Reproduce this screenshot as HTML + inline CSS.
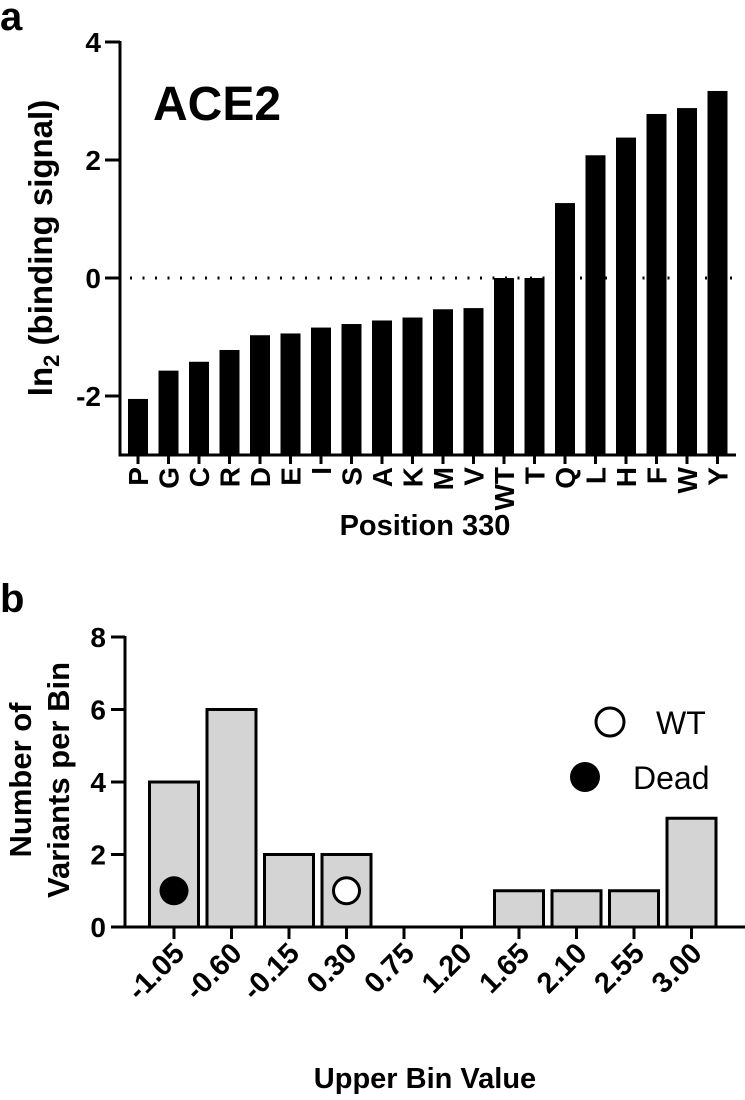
<!DOCTYPE html>
<html><head><meta charset="utf-8"><style>
html,body{margin:0;padding:0;background:#fff;}
svg{display:block;font-family:"Liberation Sans",Arial,sans-serif;}
</style></head><body>
<svg id="fig" width="745" height="1100" viewBox="0 0 745 1100" xmlns="http://www.w3.org/2000/svg">
<text x="0" y="30" font-size="40" font-weight="bold">a</text>
<text x="153" y="120" font-size="48" font-weight="bold">ACE2</text>
<text transform="translate(52,248) rotate(-90)" text-anchor="middle" font-size="33" font-weight="bold">ln<tspan font-size="22" dy="7">2</tspan><tspan dy="-7"> (binding signal)</tspan></text>
<text x="425" y="535" text-anchor="middle" font-size="29" font-weight="bold">Position 330</text>
<g id="chartA"></g>
<text x="0" y="612" font-size="40" font-weight="bold">b</text>
<text transform="translate(31,780) rotate(-90)" text-anchor="middle" font-size="31" font-weight="bold">Number of</text>
<text transform="translate(69,780) rotate(-90)" text-anchor="middle" font-size="31" font-weight="bold">Variants per Bin</text>
<text x="425" y="1088" text-anchor="middle" font-size="29" font-weight="bold">Upper Bin Value</text>
<g id="chartB"></g>
<g>
<circle cx="610" cy="722" r="14" fill="#fff" stroke="#000" stroke-width="3"/>
<text x="656" y="734" font-size="32">WT</text>
<circle cx="585" cy="777" r="15" fill="#000"/>
<text x="633" y="789" font-size="32">Dead</text>
</g>
</svg>
<script>
const catsA = ["P","G","C","R","D","E","I","S","A","K","M","V","WT","T","Q","L","H","F","W","Y"];
const valsA = [-2.05,-1.57,-1.42,-1.22,-0.97,-0.94,-0.84,-0.78,-0.72,-0.67,-0.53,-0.51,0,0,1.27,2.08,2.38,2.78,2.88,3.17];
const ticksA = [4,2,0,-2];
const binsB = ["-1.05","-0.60","-0.15","0.30","0.75","1.20","1.65","2.10","2.55","3.00"];
const countsB = [4,6,2,2,0,0,1,1,1,3];
const ticksB = [0,2,4,6,8];
const deadBin = 0, deadVal = 1;
const wtBin = 3, wtVal = 1;

const NS="http://www.w3.org/2000/svg";
function mk(tag,attrs,parent){const e=document.createElementNS(NS,tag);for(const k in attrs)e.setAttribute(k,attrs[k]);parent.appendChild(e);return e;}

// Panel A
const gA=document.getElementById('chartA');
const yA=v=>278-v*59;
const xA=i=>138+i*30.5;
let e;
e=mk('line',{x1:120,y1:yA(4)-1,x2:120,y2:yA(-3)+1.5,stroke:'#000','stroke-width':3},gA);


e=mk('line',{x1:118.5,y1:yA(-3),x2:736,y2:yA(-3),stroke:'#000','stroke-width':3},gA);


e=mk('line',{x1:130,y1:yA(0),x2:736,y2:yA(0),stroke:'#000','stroke-width':3,'stroke-dasharray':'2 10.5'},gA);


ticksA.forEach(t=>{
  e=mk('line',{x1:105,y1:yA(t),x2:120,y2:yA(t),stroke:'#000','stroke-width':3},gA);
  
  
  e=mk('text',{x:101,y:yA(t)+10,'text-anchor':'end','font-size':28,'font-weight':'bold'},gA);
  e.textContent=String(t);
  
  
});
catsA.forEach((c,i)=>{
  const v=valsA[i];
  e=mk('rect',{x:xA(i)-10,y:yA(v),width:20,height:yA(-3)-yA(v),fill:'#000'},gA);
  
  
  e=mk('line',{x1:xA(i),y1:yA(-3),x2:xA(i),y2:yA(-3)+9,stroke:'#000','stroke-width':3},gA);
  
  
  e=mk('text',{transform:`translate(${xA(i)+10},${yA(-3)+12}) rotate(-90)`,'text-anchor':'end','font-size':28,'font-weight':'bold'},gA);
  e.textContent=c;
  
  
});

// Panel B
const gB=document.getElementById('chartB');
const yB=v=>927-v*36.25;
const xB=i=>174+i*57.5;
e=mk('line',{x1:125,y1:yB(8)-1,x2:125,y2:yB(0)+1.5,stroke:'#000','stroke-width':3},gB);


ticksB.forEach(t=>{
  e=mk('line',{x1:111,y1:yB(t),x2:125,y2:yB(t),stroke:'#000','stroke-width':3},gB);
  
  
  e=mk('text',{x:106,y:yB(t)+10,'text-anchor':'end','font-size':28,'font-weight':'bold'},gB);
  e.textContent=t;
  
  
});
binsB.forEach((b,i)=>{
  const v=countsB[i];
  if(v>0){
    e=mk('rect',{x:xB(i)-24.5,y:yB(v),width:49,height:yB(0)-yB(v),fill:'#d4d4d4',stroke:'#000','stroke-width':3},gB);
    
    
  }
  e=mk('line',{x1:xB(i),y1:yB(0),x2:xB(i),y2:yB(0)+12,stroke:'#000','stroke-width':3},gB);
  
  
  e=mk('text',{transform:`translate(${xB(i)+12},${yB(0)+28}) rotate(-45)`,'text-anchor':'end','font-size':29,'font-weight':'bold'},gB);
  e.textContent=b;
  
  
});
e=mk('line',{x1:123.5,y1:yB(0),x2:745,y2:yB(0),stroke:'#000','stroke-width':3},gB);


e=mk('circle',{cx:xB(deadBin),cy:yB(deadVal),r:14.5,fill:'#000'},gB);


e=mk('circle',{cx:xB(wtBin),cy:yB(wtVal),r:13,fill:'#fff',stroke:'#000','stroke-width':3},gB);


</script>
</body></html>
